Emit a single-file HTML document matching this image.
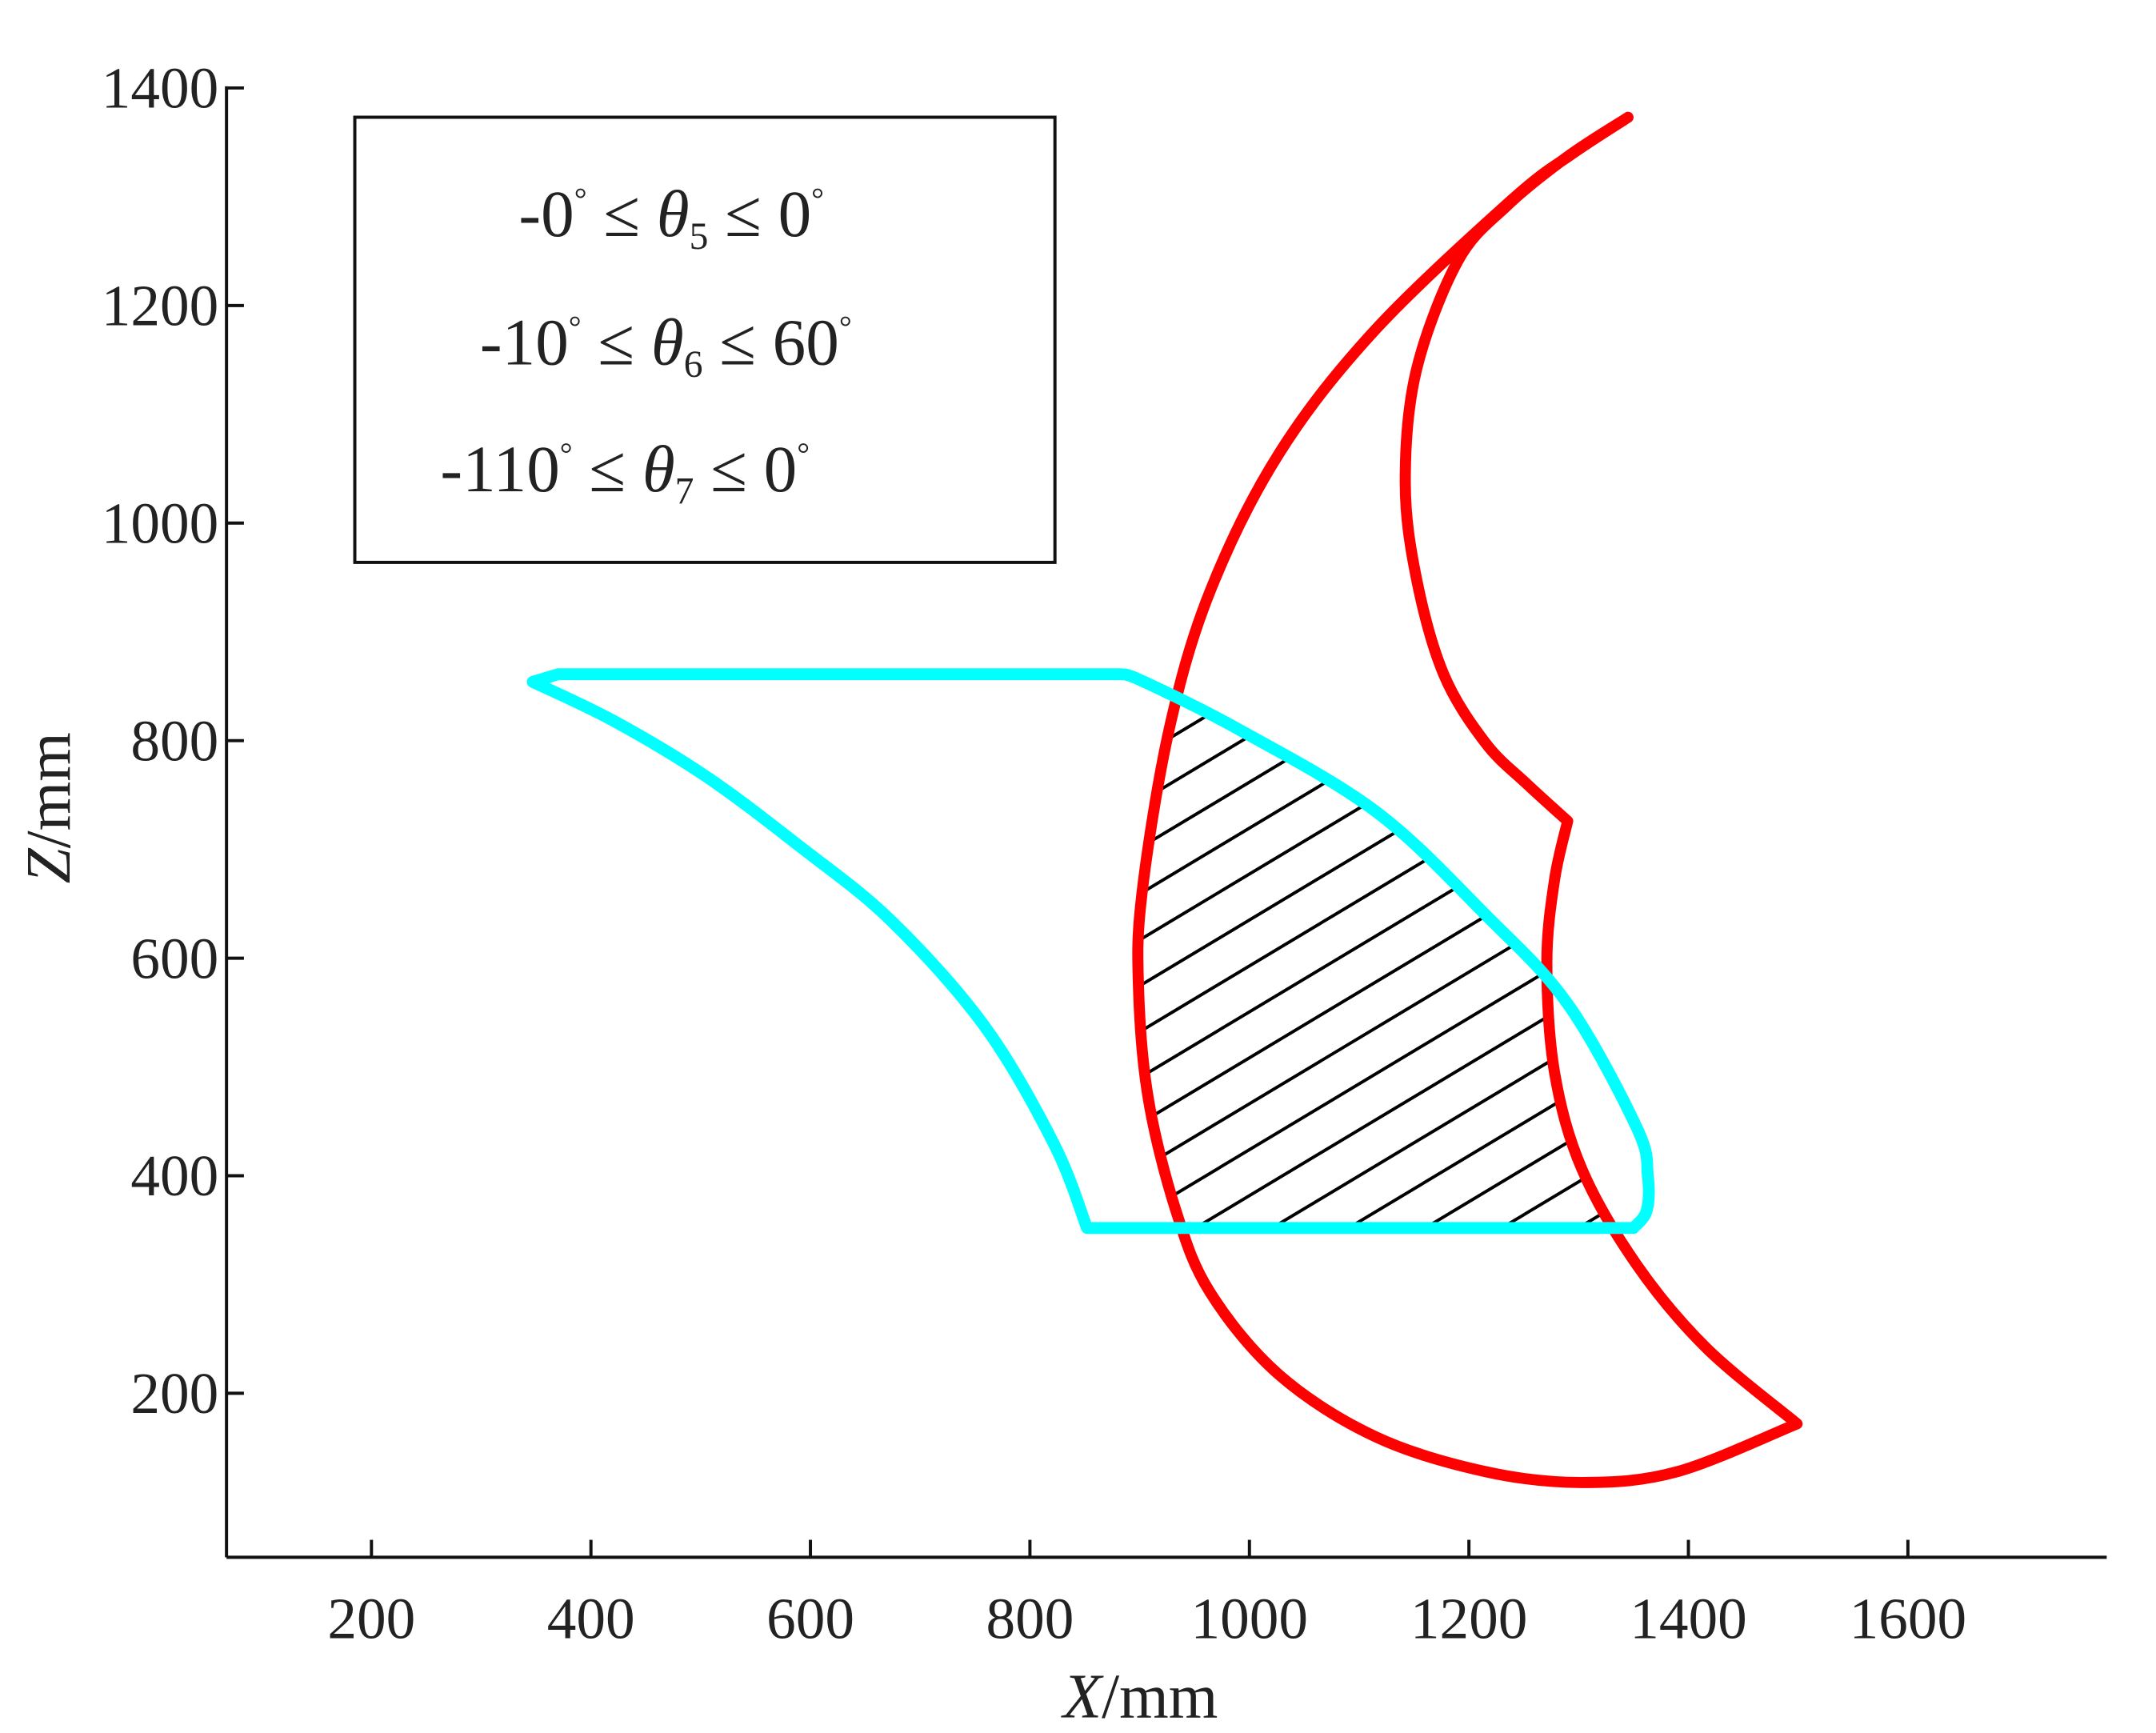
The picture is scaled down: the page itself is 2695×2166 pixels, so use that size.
<!DOCTYPE html>
<html><head><meta charset="utf-8"><style>
html,body{margin:0;padding:0;background:#fff;overflow:hidden}
svg{display:block}
text{font-family:"Liberation Serif",serif;fill:#222}
</style></head><body>
<svg id="chart" width="2695" height="2166" viewBox="0 0 2695 2166" xmlns="http://www.w3.org/2000/svg">
<defs>
<clipPath id="clipCyan"><path id="cyanClipPath"/></clipPath>
<clipPath id="clipRed"><path id="redClipPath"/></clipPath>
</defs>
<g transform="scale(0.99)">
<g id="axes"></g>
<g clip-path="url(#clipRed)"><g id="hatch" clip-path="url(#clipCyan)"></g></g>
<g id="series"></g>
<g>
<rect x="448" y="148" width="884" height="562" fill="none" stroke="#111" stroke-width="4"/>
<text x="655" y="298" font-size="84">-0<tspan font-size="40" dy="-34">°</tspan><tspan dy="34"> ≤ </tspan><tspan font-style="italic">θ</tspan><tspan font-size="48" dy="16">5</tspan><tspan dy="-16"> ≤ 0</tspan><tspan font-size="40" dy="-34">°</tspan></text>
<text x="606" y="460" font-size="84">-10<tspan font-size="40" dy="-34">°</tspan><tspan dy="34"> ≤ </tspan><tspan font-style="italic">θ</tspan><tspan font-size="48" dy="16">6</tspan><tspan dy="-16"> ≤ 60</tspan><tspan font-size="40" dy="-34">°</tspan></text>
<text x="556" y="620" font-size="84">-110<tspan font-size="40" dy="-34">°</tspan><tspan dy="34"> ≤ </tspan><tspan font-style="italic">θ</tspan><tspan font-size="48" dy="16">7</tspan><tspan dy="-16"> ≤ 0</tspan><tspan font-size="40" dy="-34">°</tspan></text>
</g>
</g>
</svg>
<script>
const xTicks=[200,400,600,800,1000,1200,1400,1600];
const yTicks=[200,400,600,800,1000,1200,1400];
const redX=[1345,1295,1240,1115,1027,964,927,902,899,908,933,964,1027,1115,1215,1303,1390,1499,1416,1353,1303,1278,1271,1278,1290,1253,1215,1177,1152,1142,1152,1190,1235,1290,1345];
const redY=[1373,1340,1298,1178,1064,937,811,659,571,470,368,293,217,160,128,118,128,172,242,318,406,495,596,672,726,760,798,861,950,1038,1140,1241,1292,1337,1373];
const cyanX=[347,370,883,902,989,1115,1215,1290,1353,1363,1362,1350,852,822,759,674,590,505,421,347];
const cyanY=[854,861,861,855,811,735,640,558,444,400,368,352,352,429,537,634,703,767,818,854];
const redCorners=[0,17,24,34];
const cyanCorners=[0,1,2,11,12,19];
const NS='http://www.w3.org/2000/svg';
function sx(v){return 469+(v-200)*1.3857;}
function sy(v){return 1759-(v-200)*1.3733;}
function mk(tag,attrs,parent){const e=document.createElementNS(NS,tag);for(const k in attrs)e.setAttribute(k,attrs[k]);parent.appendChild(e);return e;}
function smoothD(xs,ys,corners){
  const P=xs.map((x,i)=>[sx(x),sy(ys[i])]);
  let d='M'+P[0][0].toFixed(1)+','+P[0][1].toFixed(1);
  for(let c=0;c<corners.length-1;c++){
    const a=corners[c],b=corners[c+1];
    for(let i=a;i<b;i++){
      const p0=P[i>a?i-1:i],p1=P[i],p2=P[i+1],p3=P[i+1<b?i+2:i+1];
      const c1=[p1[0]+(p2[0]-p0[0])/6,p1[1]+(p2[1]-p0[1])/6];
      const c2=[p2[0]-(p3[0]-p1[0])/6,p2[1]-(p3[1]-p1[1])/6];
      d+='C'+c1[0].toFixed(1)+','+c1[1].toFixed(1)+' '+c2[0].toFixed(1)+','+c2[1].toFixed(1)+' '+p2[0].toFixed(1)+','+p2[1].toFixed(1);
    }
  }
  return d+'Z';
}
const axes=document.getElementById('axes');
const xl=mk('line',{x1:286,y1:1966,x2:2660,y2:1966,stroke:'#111','stroke-width':4},axes);


const yl=mk('line',{x1:286,y1:1966,x2:286,y2:109,stroke:'#111','stroke-width':4},axes);


xTicks.forEach(v=>{const x=sx(v);mk('line',{x1:x,y1:1966,x2:x,y2:1944,stroke:'#111','stroke-width':4},axes);
const t=mk('text',{x:x,y:2068,'font-size':74,'text-anchor':'middle'},axes);t.textContent=v;

});
yTicks.forEach(v=>{const y=sy(v);mk('line',{x1:286,y1:y,x2:308,y2:y,stroke:'#111','stroke-width':4},axes);
const t=mk('text',{x:276,y:y+25,'font-size':74,'text-anchor':'end'},axes);t.textContent=v;

});
const xt=mk('text',{x:1440,y:2168,'font-size':80,'text-anchor':'middle'},axes);
xt.innerHTML='<tspan font-style="italic">X</tspan>/mm';


const yt=mk('text',{x:0,y:0,'font-size':80,'text-anchor':'middle',transform:'translate(88,1020) rotate(-90)'},axes);
yt.innerHTML='<tspan font-style="italic">Z</tspan>/mm';


const rd=smoothD(redX,redY,redCorners), cd=smoothD(cyanX,cyanY,cyanCorners);
document.getElementById('redClipPath').setAttribute('d',rd);
document.getElementById('cyanClipPath').setAttribute('d',cd);
const hatch=document.getElementById('hatch');
for(let k=-30;k<30;k++){const y0=1560+k*58;
mk('line',{x1:1300,y1:y0,x2:2200,y2:y0-0.6*900,stroke:'#000','stroke-width':4},hatch);}
const series=document.getElementById('series');
const rp=mk('path',{d:rd,fill:'none',stroke:'#ff0000','stroke-width':14,'stroke-linejoin':'round'},series);


const cp=mk('path',{d:cd,fill:'none',stroke:'#00ffff','stroke-width':15,'stroke-linejoin':'round'},series);


</script>
</body></html>
